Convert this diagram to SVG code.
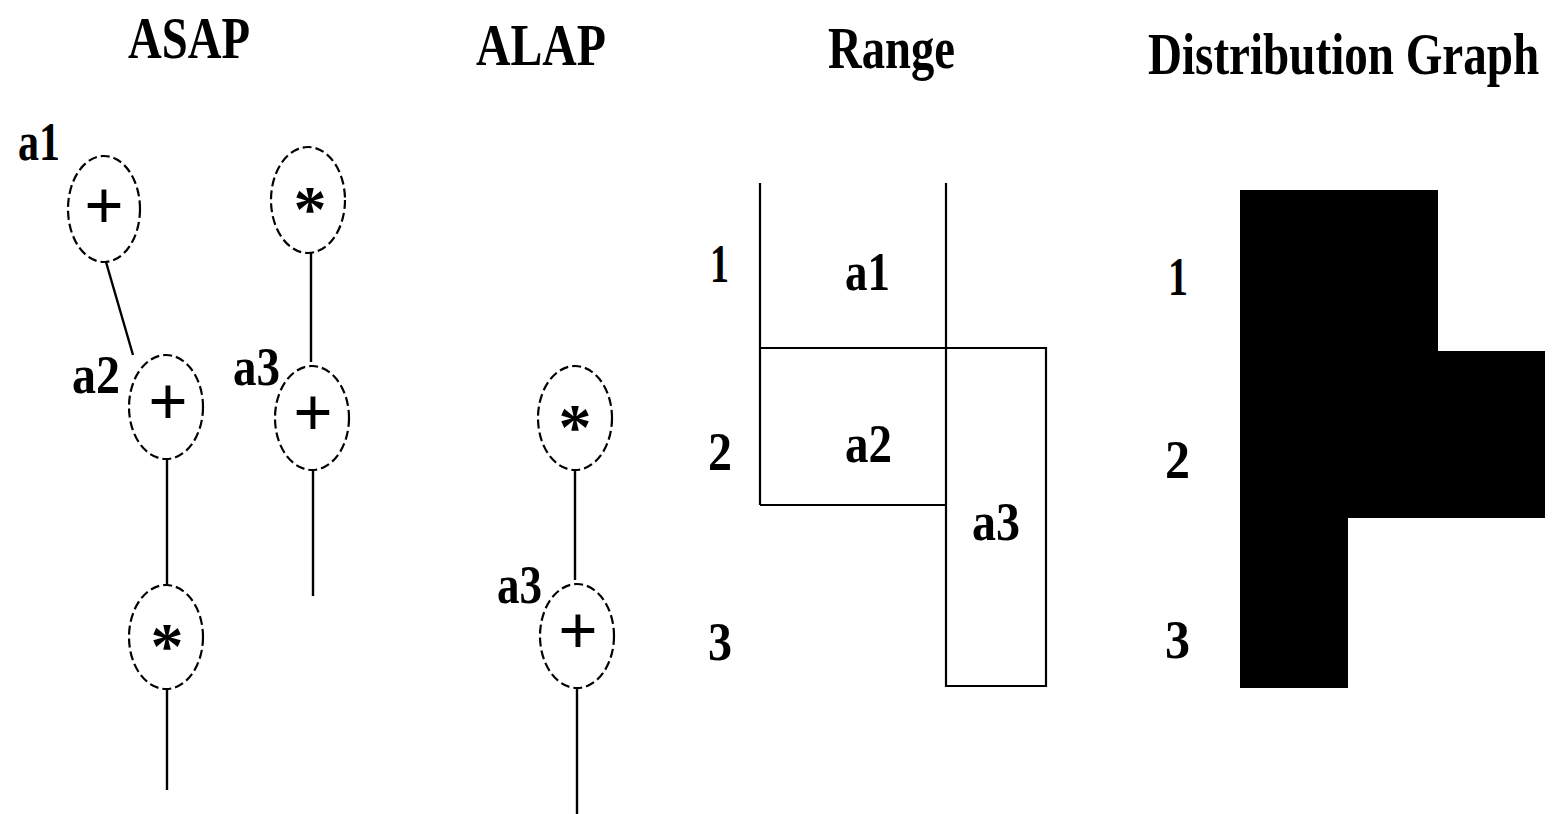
<svg xmlns="http://www.w3.org/2000/svg" width="1554" height="814" viewBox="0 0 1554 814">
<style>
.t{font-family:"Liberation Serif","Times New Roman",serif;font-weight:bold;fill:#000}
.title{font-size:60px}
.lab{font-size:54px}
.op{font-size:70px;text-anchor:middle}
.ast{font-size:66px;text-anchor:middle}
.node{fill:none;stroke:#000;stroke-width:2.2;stroke-dasharray:9 4}
.edge{stroke:#000;stroke-width:2.4;fill:none}
.rng{stroke:#000;stroke-width:2.2;fill:none}
</style>
<rect width="1554" height="814" fill="#fff"/>
<g id="titles">
<text class="t title" x="128" y="58" textLength="122" lengthAdjust="spacingAndGlyphs">ASAP</text>
<text class="t title" x="476" y="65" textLength="130" lengthAdjust="spacingAndGlyphs">ALAP</text>
<text class="t title" x="828" y="68" textLength="127" lengthAdjust="spacingAndGlyphs">Range</text>
<text class="t title" x="0" y="0" transform="translate(1148 74) scale(0.785 1)">Distribution Graph</text>
</g>
<g id="connectors">
<line class="edge" x1="106" y1="262" x2="133" y2="355"/>
<line class="edge" x1="167" y1="459" x2="167" y2="585"/>
<line class="edge" x1="167" y1="689" x2="167" y2="790"/>
<line class="edge" x1="311" y1="252" x2="311" y2="362"/>
<line class="edge" x1="313" y1="470" x2="313" y2="596"/>
<line class="edge" x1="575" y1="470" x2="575" y2="580"/>
<line class="edge" x1="577" y1="688" x2="577" y2="814"/>
</g>
<g id="asap-a1">
<ellipse class="node" cx="104" cy="209" rx="36" ry="53"/>
<text class="t op" x="104" y="229">+</text>
<text class="t lab" x="18" y="160" textLength="42" lengthAdjust="spacingAndGlyphs">a1</text>
</g>
<g id="asap-a2">
<ellipse class="node" cx="166" cy="407" rx="37" ry="52"/>
<text class="t op" x="168" y="425">+</text>
<text class="t lab" x="72" y="393" textLength="48" lengthAdjust="spacingAndGlyphs">a2</text>
</g>
<g id="asap-mul1">
<ellipse class="node" cx="166" cy="637" rx="37" ry="52"/>
<text class="t ast" x="167" y="668">*</text>
</g>
<g id="asap-mul2">
<ellipse class="node" cx="308" cy="200" rx="37" ry="53"/>
<text class="t ast" x="310" y="231">*</text>
</g>
<g id="asap-a3">
<ellipse class="node" cx="312" cy="418" rx="37" ry="52"/>
<text class="t op" x="313" y="436">+</text>
<text class="t lab" x="233" y="385" textLength="47" lengthAdjust="spacingAndGlyphs">a3</text>
</g>
<g id="alap-mul">
<ellipse class="node" cx="575" cy="418" rx="37" ry="52"/>
<text class="t ast" x="575" y="449">*</text>
</g>
<g id="alap-a3">
<ellipse class="node" cx="577" cy="636" rx="37" ry="52"/>
<text class="t op" x="578" y="654">+</text>
<text class="t lab" x="497" y="603" textLength="45" lengthAdjust="spacingAndGlyphs">a3</text>
</g>
<g id="range">
<line class="rng" x1="760" y1="183" x2="760" y2="505"/>
<line class="rng" x1="946" y1="183" x2="946" y2="687"/>
<polyline class="rng" points="760,348 1046,348 1046,686 946,686"/>
<line class="rng" x1="760" y1="505" x2="946" y2="505"/>
<text class="t lab" x="710" y="282" textLength="19" lengthAdjust="spacingAndGlyphs">1</text>
<text class="t lab" x="708" y="470" textLength="24" lengthAdjust="spacingAndGlyphs">2</text>
<text class="t lab" x="708" y="660" textLength="24" lengthAdjust="spacingAndGlyphs">3</text>
<text class="t lab" x="845" y="290" textLength="45" lengthAdjust="spacingAndGlyphs">a1</text>
<text class="t lab" x="845" y="462" textLength="47" lengthAdjust="spacingAndGlyphs">a2</text>
<text class="t lab" x="972" y="540" textLength="48" lengthAdjust="spacingAndGlyphs">a3</text>
</g>
<g id="distribution">
<polygon points="1240,190 1438,190 1438,351 1545,351 1545,518 1348,518 1348,688 1240,688" fill="#000"/>
<text class="t lab" x="1168" y="295" textLength="20" lengthAdjust="spacingAndGlyphs">1</text>
<text class="t lab" x="1165" y="478" textLength="25" lengthAdjust="spacingAndGlyphs">2</text>
<text class="t lab" x="1165" y="658" textLength="25" lengthAdjust="spacingAndGlyphs">3</text>
</g>
</svg>
